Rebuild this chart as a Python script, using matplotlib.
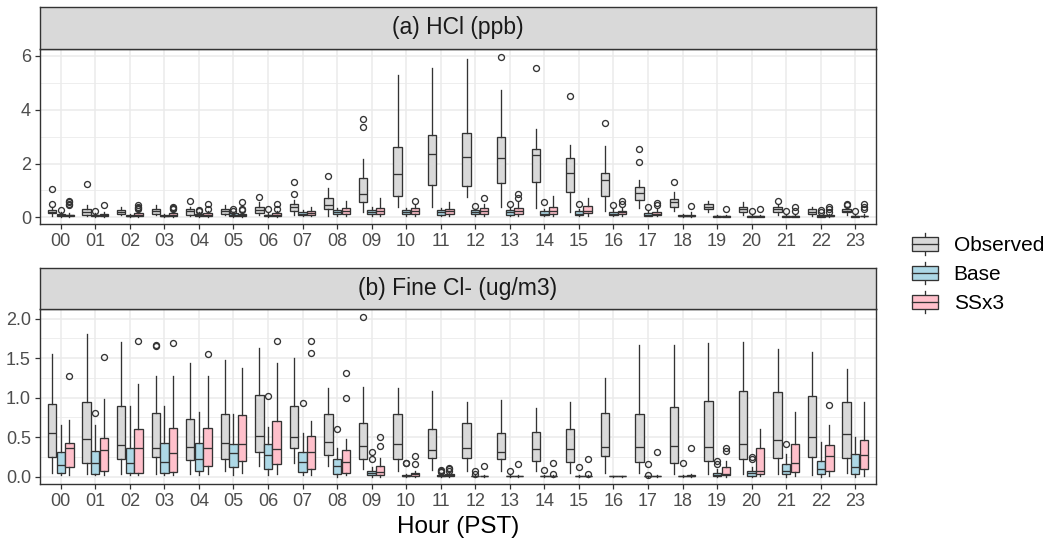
import matplotlib
matplotlib.use("Agg")
import matplotlib.pyplot as plt
from matplotlib.patches import Rectangle
from matplotlib.lines import Line2D
from matplotlib.legend_handler import HandlerBase

plt.rcParams['font.family'] = ['Liberation Sans', 'DejaVu Sans']

hours = [f"{h:02d}" for h in range(24)]
series = ["Observed", "Base", "SSx3"]
colors = ["#d9d9d9", "#add8e6", "#ffc0cb"]
edge = "#333333"

# (a) HCl (ppb) -- Observed
hcl_obs_lo = [0.05, 0.05, 0.08, 0.08, 0.05, 0.08, 0.1, 0.1, 0.05, 0.2, 0.4, 0.4,
              0.75, 0.4, 0.35, 0.2, 0.25, 0.35, 0.25, 0.2, 0.1, 0.1, 0.05, 0.1]
hcl_obs_q1 = [0.15, 0.1, 0.12, 0.12, 0.1, 0.12, 0.15, 0.25, 0.3, 0.58, 0.8, 1.2,
              1.18, 1.28, 1.3, 0.95, 0.8, 0.65, 0.4, 0.3, 0.2, 0.2, 0.12, 0.2]
hcl_obs_med = [0.2, 0.18, 0.2, 0.22, 0.22, 0.22, 0.28, 0.38, 0.45, 0.85, 1.6, 2.35,
               2.25, 2.22, 2.3, 1.65, 1.4, 0.9, 0.55, 0.4, 0.3, 0.3, 0.2, 0.25]
hcl_obs_q3 = [0.28, 0.3, 0.28, 0.3, 0.3, 0.32, 0.4, 0.5, 0.72, 1.45, 2.62, 3.05,
              3.15, 3.0, 2.55, 2.2, 1.65, 1.12, 0.68, 0.5, 0.4, 0.4, 0.3, 0.3]
hcl_obs_hi = [0.4, 0.45, 0.4, 0.45, 0.4, 0.45, 0.55, 0.65, 1.1, 2.15, 5.3, 5.55,
              5.9, 4.75, 3.3, 2.7, 2.65, 1.37, 0.95, 0.6, 0.55, 0.45, 0.4, 0.38]
hcl_obs_out = [[0.48, 1.05], [1.25], [], [], [0.6], [], [0.75], [0.88, 1.3], [1.55],
               [3.35, 3.65], [], [], [], [5.95], [5.55], [4.5], [3.5], [2.05, 2.55],
               [1.33], [], [], [0.62], [], [0.45, 0.5]]

# (a) HCl (ppb) -- Base
hcl_base_lo = [0.02] * 7 + [0.04, 0.06, 0.05, 0.06, 0.05, 0.06, 0.05, 0.04, 0.04,
                            0.04, 0.03] + [0.02] * 6
hcl_base_q1 = [0.05, 0.05, 0.03, 0.03, 0.05, 0.05, 0.04, 0.08, 0.12, 0.12, 0.12, 0.1,
               0.12, 0.1, 0.08, 0.08, 0.08, 0.06, 0.03, 0.02, 0.02, 0.02, 0.02, 0.02]
hcl_base_med = [0.08, 0.07, 0.05, 0.05, 0.08, 0.1, 0.07, 0.12, 0.18, 0.18, 0.18, 0.18,
                0.18, 0.18, 0.14, 0.14, 0.12, 0.1, 0.05, 0.03, 0.03, 0.03, 0.04, 0.03]
hcl_base_q3 = [0.12, 0.1, 0.08, 0.08, 0.12, 0.15, 0.1, 0.18, 0.28, 0.26, 0.26, 0.26,
               0.26, 0.26, 0.22, 0.22, 0.2, 0.16, 0.08, 0.05, 0.05, 0.05, 0.07, 0.05]
hcl_base_hi = [0.2, 0.15, 0.12, 0.12, 0.2, 0.2, 0.15, 0.28, 0.35, 0.38, 0.35, 0.35,
               0.32, 0.35, 0.32, 0.32, 0.3, 0.25, 0.12, 0.08, 0.08, 0.08, 0.1, 0.08]
hcl_base_out = [[0.28], [0.22], [], [], [0.25, 0.28], [0.25, 0.3], [0.3], [], [], [],
                [], [], [0.42], [0.5], [0.55], [0.5], [0.45], [0.4], [], [], [0.25],
                [0.25], [0.2, 0.28], [0.25]]

# (a) HCl (ppb) -- SSx3
hcl_ss_lo = [0.02] * 7 + [0.04, 0.05, 0.05, 0.06, 0.06, 0.06, 0.06, 0.06, 0.06,
                          0.05, 0.04] + [0.02] * 6
hcl_ss_q1 = [0.04, 0.05, 0.05, 0.05, 0.05, 0.05, 0.05, 0.08, 0.12, 0.12, 0.12, 0.12,
             0.12, 0.12, 0.12, 0.15, 0.12, 0.08, 0.04, 0.02, 0.02, 0.02, 0.03, 0.03]
hcl_ss_med = [0.07, 0.08, 0.1, 0.1, 0.1, 0.08, 0.1, 0.15, 0.22, 0.22, 0.22, 0.22,
              0.22, 0.22, 0.25, 0.25, 0.18, 0.14, 0.06, 0.03, 0.03, 0.03, 0.05, 0.04]
hcl_ss_q3 = [0.1, 0.12, 0.15, 0.15, 0.15, 0.12, 0.15, 0.22, 0.35, 0.35, 0.35, 0.32,
             0.35, 0.35, 0.4, 0.42, 0.25, 0.2, 0.1, 0.05, 0.05, 0.05, 0.08, 0.06]
hcl_ss_hi = [0.15, 0.18, 0.25, 0.25, 0.25, 0.2, 0.25, 0.4, 0.6, 0.7, 0.45, 0.55,
             0.5, 0.55, 0.8, 0.7, 0.35, 0.3, 0.2, 0.1, 0.1, 0.1, 0.12, 0.12]
hcl_ss_out = [[0.45, 0.5, 0.55, 0.6], [0.47], [0.3, 0.35, 0.4, 0.45], [0.3, 0.35, 0.4],
              [0.32, 0.5], [0.28, 0.32, 0.55], [0.32, 0.5], [], [], [], [0.6], [],
              [0.72], [0.7, 0.88], [], [], [0.5, 0.6], [0.45, 0.52], [0.42], [0.32],
              [0.3], [0.25, 0.38], [0.2, 0.3, 0.4], [0.3, 0.4, 0.5]]

# (b) Fine Cl- (ug/m3) -- Observed
cl_obs_lo = [0.05, 0.04, 0.03, 0.03, 0.03, 0.08, 0.14, 0.17, 0.14, 0.1, 0.08, 0.09,
             0.08, 0.08, 0.07, 0.05, 0.05, 0.05, 0.04, 0.04, 0.04, 0.04, 0.02, 0.05]
cl_obs_q1 = [0.25, 0.18, 0.22, 0.25, 0.21, 0.22, 0.31, 0.36, 0.28, 0.23, 0.23, 0.24,
             0.24, 0.22, 0.2, 0.19, 0.26, 0.19, 0.17, 0.2, 0.22, 0.24, 0.25, 0.24]
cl_obs_med = [0.56, 0.48, 0.4, 0.36, 0.38, 0.43, 0.51, 0.5, 0.44, 0.39, 0.41, 0.34,
              0.36, 0.31, 0.35, 0.35, 0.38, 0.38, 0.39, 0.38, 0.41, 0.47, 0.5, 0.54]
cl_obs_q3 = [0.92, 0.95, 0.9, 0.81, 0.73, 0.8, 1.04, 0.9, 0.79, 0.68, 0.79, 0.6,
             0.68, 0.55, 0.57, 0.61, 0.81, 0.8, 0.88, 0.96, 1.08, 1.07, 1.02, 0.95]
cl_obs_hi = [1.55, 1.81, 1.7, 1.28, 1.44, 1.48, 1.63, 1.5, 1.12, 1.13, 1.12, 1.08,
             0.95, 0.97, 0.87, 0.94, 1.25, 1.67, 1.67, 1.69, 1.7, 1.62, 1.58, 1.36]
cl_obs_out = [[], [], [], [1.65, 1.66], [], [], [], [], [], [2.02], [], [],
              [], [], [], [], [], [], [], [], [], [], [], []]

# (b) Fine Cl- (ug/m3) -- Base
cl_base_lo = [0.02] * 8 + [0.0] * 16
cl_base_q1 = [0.05, 0.04, 0.05, 0.05, 0.08, 0.12, 0.1, 0.06, 0.03, 0.02, 0.01, 0.01,
              0.005, 0.005, 0.005, 0.005, 0.005, 0.005, 0.005, 0.01, 0.01, 0.03, 0.04, 0.03]
cl_base_med = [0.15, 0.17, 0.17, 0.19, 0.22, 0.3, 0.28, 0.19, 0.14, 0.05, 0.015, 0.015,
               0.01, 0.01, 0.01, 0.01, 0.008, 0.008, 0.01, 0.02, 0.05, 0.07, 0.1, 0.13]
cl_base_q3 = [0.31, 0.33, 0.37, 0.43, 0.43, 0.41, 0.41, 0.32, 0.23, 0.08, 0.02, 0.02,
              0.015, 0.015, 0.015, 0.015, 0.01, 0.01, 0.015, 0.05, 0.08, 0.16, 0.2, 0.29]
cl_base_hi = [0.65, 0.65, 0.89, 0.9, 0.82, 0.8, 0.63, 0.56, 0.36, 0.13, 0.04, 0.04,
              0.02, 0.02, 0.02, 0.02, 0.015, 0.015, 0.02, 0.1, 0.12, 0.29, 0.44, 0.5]
cl_base_out = [[], [0.81], [], [], [], [], [1.02], [0.93], [0.6], [0.22, 0.32],
               [0.17, 0.18], [0.06, 0.08, 0.09], [0.03, 0.07], [0.08], [0.09], [0.12],
               [], [0.02, 0.16], [0.17], [0.16, 0.2], [0.23, 0.25], [0.42], [], []]

# (b) Fine Cl- (ug/m3) -- SSx3
cl_ss_lo = [0.02, 0.02, 0.02, 0.02, 0.04, 0.05, 0.03, 0.02, 0.02] + [0.0] * 11 + \
           [0.01] * 4
cl_ss_q1 = [0.13, 0.08, 0.05, 0.06, 0.14, 0.2, 0.16, 0.1, 0.05, 0.02, 0.01, 0.01,
            0.005, 0.005, 0.005, 0.005, 0.005, 0.005, 0.01, 0.02, 0.03, 0.06, 0.07, 0.1]
cl_ss_med = [0.37, 0.34, 0.36, 0.3, 0.36, 0.41, 0.35, 0.32, 0.19, 0.06, 0.03, 0.02,
             0.01, 0.01, 0.01, 0.01, 0.008, 0.01, 0.015, 0.04, 0.07, 0.18, 0.26, 0.27]
cl_ss_q3 = [0.43, 0.49, 0.6, 0.62, 0.62, 0.78, 0.71, 0.52, 0.34, 0.14, 0.05, 0.03,
            0.015, 0.015, 0.015, 0.015, 0.01, 0.015, 0.02, 0.13, 0.36, 0.41, 0.4, 0.47]
cl_ss_hi = [0.72, 0.98, 1.17, 1.28, 1.28, 1.37, 1.44, 0.7, 0.48, 0.24, 0.08, 0.05,
            0.02, 0.02, 0.02, 0.02, 0.015, 0.02, 0.03, 0.2, 0.6, 0.82, 0.65, 0.95]
cl_ss_out = [[1.27], [1.52], [1.71], [1.69], [1.55], [], [1.71], [1.57, 1.71],
             [1.0, 1.31], [0.39, 0.5], [0.16, 0.26], [0.08, 0.1, 0.11], [0.14], [0.16],
             [0.04, 0.18], [0.04, 0.22], [], [0.32], [0.36], [0.33, 0.36], [], [],
             [0.91], []]


def make_stats(lo, q1, med, q3, hi, out):
    return [dict(whislo=a, q1=b, med=c, q3=d, whishi=e, fliers=f)
            for a, b, c, d, e, f in zip(lo, q1, med, q3, hi, out)]


hcl_data = [
    make_stats(hcl_obs_lo, hcl_obs_q1, hcl_obs_med, hcl_obs_q3, hcl_obs_hi, hcl_obs_out),
    make_stats(hcl_base_lo, hcl_base_q1, hcl_base_med, hcl_base_q3, hcl_base_hi, hcl_base_out),
    make_stats(hcl_ss_lo, hcl_ss_q1, hcl_ss_med, hcl_ss_q3, hcl_ss_hi, hcl_ss_out),
]
cl_data = [
    make_stats(cl_obs_lo, cl_obs_q1, cl_obs_med, cl_obs_q3, cl_obs_hi, cl_obs_out),
    make_stats(cl_base_lo, cl_base_q1, cl_base_med, cl_base_q3, cl_base_hi, cl_base_out),
    make_stats(cl_ss_lo, cl_ss_q1, cl_ss_med, cl_ss_q3, cl_ss_hi, cl_ss_out),
]

W, H = 1050, 550
fig = plt.figure(figsize=(W / 100, H / 100), dpi=100)


def px_axes(x0, y0, x1, y1):
    # pixel box (top-left origin) -> figure axes
    return fig.add_axes([x0 / W, 1 - y1 / H, (x1 - x0) / W, (y1 - y0) / H])


def draw_panel(ax, data, ylim, yticks, yminor, fmt):
    for k, (stats, col) in enumerate(zip(data, colors)):
        pos = [i + 1 + (k - 1) * 0.25 for i in range(len(hours))]
        ax.bxp(stats, positions=pos, widths=0.24, patch_artist=True,
               showcaps=False, manage_ticks=False,
               boxprops=dict(facecolor=col, edgecolor=edge, linewidth=0.95),
               whiskerprops=dict(color=edge, linewidth=0.95),
               medianprops=dict(color=edge, linewidth=0.95),
               flierprops=dict(marker='o', markerfacecolor='none',
                               markeredgecolor=edge, markersize=4.3,
                               markeredgewidth=0.95))
    ax.set_xlim(0.4, len(hours) + 0.6)
    ax.set_ylim(*ylim)
    ax.set_xticks(range(1, len(hours) + 1))
    ax.set_xticklabels(hours)
    ax.set_yticks(yticks)
    ax.set_yticklabels([fmt.format(t) for t in yticks])
    ax.set_yticks(yminor, minor=True)
    ax.set_axisbelow(True)
    ax.grid(which='major', color='#ebebeb', linewidth=1.1)
    ax.grid(which='minor', axis='y', color='#ebebeb', linewidth=0.6)
    ax.tick_params(which='major', length=3.5, width=0.9, color=edge,
                   labelsize=13, labelcolor='#4d4d4d', pad=3)
    ax.tick_params(which='minor', length=0)
    for s in ax.spines.values():
        s.set_color(edge)
        s.set_linewidth(1.0)


def draw_strip(ax, label):
    ax.set_facecolor('#d9d9d9')
    ax.set_xticks([])
    ax.set_yticks([])
    for s in ax.spines.values():
        s.set_color(edge)
        s.set_linewidth(1.0)
    ax.text(0.5, 0.5, label, ha='center', va='center', fontsize=16.5,
            color='#1a1a1a', transform=ax.transAxes)


ax_a = px_axes(40, 48.7, 876, 224)
strip_a = px_axes(40, 7, 876, 48.7)
ax_b = px_axes(40, 309, 876, 484)
strip_b = px_axes(40, 268, 876, 309)

draw_panel(ax_a, hcl_data, (-0.25, 6.27), [0, 2, 4, 6], [1, 3, 5], "{:g}")
draw_panel(ax_b, cl_data, (-0.09, 2.12), [0, 0.5, 1.0, 1.5, 2.0],
           [0.25, 0.75, 1.25, 1.75], "{:.1f}")
draw_strip(strip_a, "(a) HCl (ppb)")
draw_strip(strip_b, "(b) Fine Cl- (ug/m3)")
ax_b.set_xlabel("Hour (PST)", fontsize=17.5, color='black', labelpad=4)


class BoxKeyHandler(HandlerBase):
    def create_artists(self, legend, orig_handle, xdescent, ydescent,
                       width, height, fontsize, trans):
        x0, y0 = -xdescent, -ydescent
        bh = height * 0.65
        by = y0 + (height - bh) / 2
        cx = x0 + width / 2
        face = orig_handle.get_facecolor()
        box = Rectangle((x0, by), width, bh, facecolor=face, edgecolor=edge,
                        linewidth=0.95, transform=trans)
        mid = Line2D([x0, x0 + width], [by + bh / 2] * 2, color=edge,
                     linewidth=0.95, transform=trans)
        top = Line2D([cx, cx], [by + bh, y0 + height], color=edge,
                     linewidth=0.95, transform=trans)
        bot = Line2D([cx, cx], [y0, by], color=edge, linewidth=0.95,
                     transform=trans)
        return [top, bot, box, mid]


handles = [Rectangle((0, 0), 1, 1, facecolor=c) for c in colors]
fig.legend(handles, series, loc='center left',
           bbox_to_anchor=(912 / W, 1 - 273 / H), frameon=False,
           fontsize=15, handlelength=1.25, handleheight=1.25,
           handletextpad=0.75, labelspacing=0.35, borderpad=0,
           borderaxespad=0,
           handler_map={Rectangle: BoxKeyHandler()})

fig.savefig("out.png", dpi=100)
